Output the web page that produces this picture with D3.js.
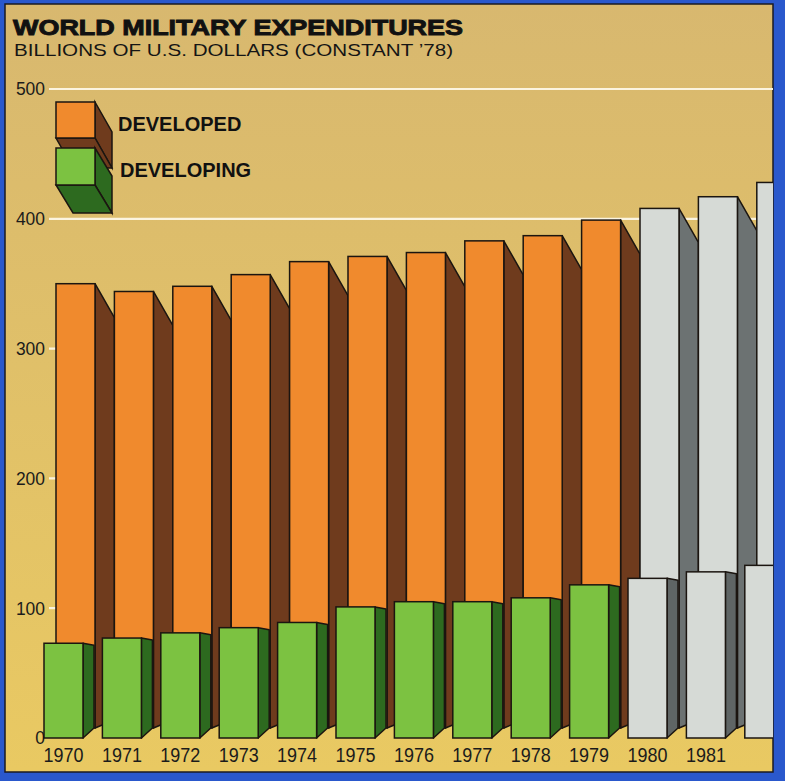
<!DOCTYPE html>
<html>
<head>
<meta charset="utf-8">
<script src="https://cdn.jsdelivr.net/npm/d3@7"></script>
<style>
  html, body { margin: 0; padding: 0; background: #2a58cc; }
  svg { display: block; }
</style>
</head>
<body>
<div id="chart"></div>
<script>
// values (billions of 1978 US dollars)
const years = [1970, 1971, 1972, 1973, 1974, 1975, 1976, 1977, 1978, 1979, 1980, 1981, 1982];
const developed = [350, 344, 348, 357, 367, 371, 374, 383, 387, 399, 408, 417, 428];
const developing = [73, 77, 81, 85, 89, 101, 105, 105, 108, 118, 123, 128, 133];
const firstProjected = 1980;
const yTicks = [0, 100, 200, 300, 400, 500];
const yearLabels = [1970, 1971, 1972, 1973, 1974, 1975, 1976, 1977, 1978, 1979, 1980, 1981];

const W = 785, H = 781;
const panel = {left: 5, top: 4, right: 773, bottom: 772};

const svg = d3.select("#chart")
  .append("svg")
  .attr("width", W)
  .attr("height", H);

let defs = svg.append("defs");
let grad = defs.append("linearGradient")
  .attr("id", "paper")
  .attr("x1", 0).attr("y1", 0).attr("x2", 0).attr("y2", 1);
grad.append("stop").attr("offset", "0%").attr("stop-color", "#d8b86f");
grad.append("stop").attr("offset", "100%").attr("stop-color", "#e9c962");

defs.append("clipPath").attr("id", "clip")
  .append("rect")
  .attr("x", panel.left).attr("y", panel.top)
  .attr("width", panel.right - panel.left)
  .attr("height", panel.bottom - panel.top);

svg.append("rect")
  .attr("x", panel.left).attr("y", panel.top)
  .attr("width", panel.right - panel.left)
  .attr("height", panel.bottom - panel.top)
  .attr("fill", "url(#paper)")
  .attr("stroke", "#1a1a22")
  .attr("stroke-width", 1.5);

// titles
svg.append("text")
  .attr("x", 13).attr("y", 35)
  .attr("textLength", 450)
  .attr("lengthAdjust", "spacingAndGlyphs")
  .style("font-family", "Liberation Sans, Arial, sans-serif")
  .style("font-weight", "bold")
  .style("font-size", "22px")
  .style("fill", "#111")
  .style("stroke", "#111")
  .style("stroke-width", 0.9)
  .text("WORLD MILITARY EXPENDITURES");

svg.append("text")
  .attr("x", 14).attr("y", 56)
  .attr("textLength", 439)
  .attr("lengthAdjust", "spacingAndGlyphs")
  .style("font-family", "Liberation Sans, Arial, sans-serif")
  .style("font-size", "17px")
  .style("fill", "#151515")
  .text("BILLIONS OF U.S. DOLLARS (CONSTANT \u201978)");

// scales
let x = d3.scaleBand()
  .domain(years)
  .range([44, 44 + 58.4 * (years.length - 0.332)])
  .paddingInner(0.332)
  .paddingOuter(0);

let y = d3.scaleLinear()
  .domain([0, 500])
  .range([738, 89]);

let bw = x.bandwidth();
let backShift = 12;     // developed bars sit behind and to the right
let backLift = 10;
let backSide = x.step() - bw;
let frontSide = 11;

// gridlines and value labels
svg.append("g")
  .selectAll("line")
  .data(yTicks.filter(d => d > 0))
  .join("line")
  .attr("x1", 49)
  .attr("x2", panel.right)
  .attr("y1", d => y(d))
  .attr("y2", d => y(d))
  .attr("stroke", "#fbf4e0")
  .attr("stroke-width", 2.2);

let yAxis = svg.append("g")
  .attr("transform", "translate(45,0)")
  .call(d3.axisLeft(y).tickValues(yTicks).tickSize(0).tickPadding(0));
yAxis.select(".domain").remove();
yAxis.selectAll("text")
  .attr("textLength", d => String(d).length * 9.7)
  .attr("lengthAdjust", "spacingAndGlyphs")
  .style("font-family", "Liberation Sans, Arial, sans-serif")
  .style("font-size", "18.5px")
  .style("fill", "#1b1b1b");

let bars = svg.append("g").attr("clip-path", "url(#clip)");

let rows = years.map((yr, i) => ({
  year: yr,
  developed: developed[i],
  developing: developing[i],
  projected: yr >= firstProjected
}));

const colors = {
  devFront: "#f08a2d", devSide: "#6f3b1d",
  ingFront: "#7cc241", ingSide: "#2d6a1f",
  projFront: "#d6dad6", projSide: "#6c7272", projSide2: "#5f6565"
};
const outline = {stroke: "#1b1510", width: 1.5};

function sidePoly(x0, top, width, drop, bottom, rise) {
  return [[x0, top], [x0 + width, top + drop], [x0 + width, bottom - rise], [x0, bottom]];
}

// back layer: developed
let back = bars.selectAll("g.back")
  .data(rows)
  .join("g")
  .attr("class", "back");

back.append("polygon")
  .attr("points", d => sidePoly(x(d.year) + backShift + bw, y(d.developed), backSide,
    34, y(0) - backLift, 8).join(" "))
  .attr("fill", d => d.projected ? colors.projSide : colors.devSide)
  .attr("stroke", outline.stroke)
  .attr("stroke-width", outline.width)
  .attr("stroke-linejoin", "round");

back.append("rect")
  .attr("x", d => x(d.year) + backShift)
  .attr("y", d => y(d.developed))
  .attr("width", bw)
  .attr("height", d => y(0) - backLift - y(d.developed))
  .attr("fill", d => d.projected ? colors.projFront : colors.devFront)
  .attr("stroke", outline.stroke)
  .attr("stroke-width", outline.width);

// front layer: developing
let front = bars.selectAll("g.front")
  .data(rows)
  .join("g")
  .attr("class", "front");

front.append("polygon")
  .attr("points", d => sidePoly(x(d.year) + bw, y(d.developing), frontSide,
    2, y(0), 10).join(" "))
  .attr("fill", d => d.projected ? colors.projSide2 : colors.ingSide)
  .attr("stroke", outline.stroke)
  .attr("stroke-width", outline.width)
  .attr("stroke-linejoin", "round");

front.append("rect")
  .attr("x", d => x(d.year))
  .attr("y", d => y(d.developing))
  .attr("width", bw)
  .attr("height", d => y(0) - y(d.developing))
  .attr("fill", d => d.projected ? colors.projFront : colors.ingFront)
  .attr("stroke", outline.stroke)
  .attr("stroke-width", outline.width);

// year labels
let xAxis = svg.append("g")
  .attr("transform", "translate(0,747)")
  .call(d3.axisBottom(x).tickValues(yearLabels).tickSize(0).tickPadding(0));
xAxis.select(".domain").remove();
xAxis.selectAll("text")
  .attr("dy", "0.71em")
  .attr("textLength", 40)
  .attr("lengthAdjust", "spacingAndGlyphs")
  .style("font-family", "Liberation Sans, Arial, sans-serif")
  .style("font-size", "20.5px")
  .style("fill", "#1b1b1b");

// legend: two extruded blocks
function cube(g, x0, y0, w, h, dx, dy, front, side) {
  g.append("polygon")
    .attr("points", [[x0 + w, y0], [x0 + w + dx, y0 + dy], [x0 + w + dx, y0 + h + dy], [x0 + w, y0 + h]].join(" "))
    .attr("fill", side).attr("stroke", outline.stroke).attr("stroke-width", outline.width);
  g.append("polygon")
    .attr("points", [[x0, y0 + h], [x0 + w, y0 + h], [x0 + w + dx, y0 + h + dy], [x0 + dx, y0 + h + dy]].join(" "))
    .attr("fill", side).attr("stroke", outline.stroke).attr("stroke-width", outline.width);
  g.append("rect")
    .attr("x", x0).attr("y", y0).attr("width", w).attr("height", h)
    .attr("fill", front).attr("stroke", outline.stroke).attr("stroke-width", outline.width);
}

let legend = svg.append("g");
cube(legend, 56, 102, 39, 36, 17, 30, colors.devFront, colors.devSide);
cube(legend, 56, 148, 39, 37, 17, 28, colors.ingFront, colors.ingSide);

legend.append("text")
  .attr("x", 118).attr("y", 131)
  .style("font-family", "Liberation Sans, Arial, sans-serif")
  .style("font-weight", "bold")
  .style("font-size", "20px")
  .style("fill", "#111")
  .text("DEVELOPED");
legend.append("text")
  .attr("x", 120).attr("y", 177)
  .style("font-family", "Liberation Sans, Arial, sans-serif")
  .style("font-weight", "bold")
  .style("font-size", "20px")
  .style("fill", "#111")
  .text("DEVELOPING");
</script>
</body>
</html>
